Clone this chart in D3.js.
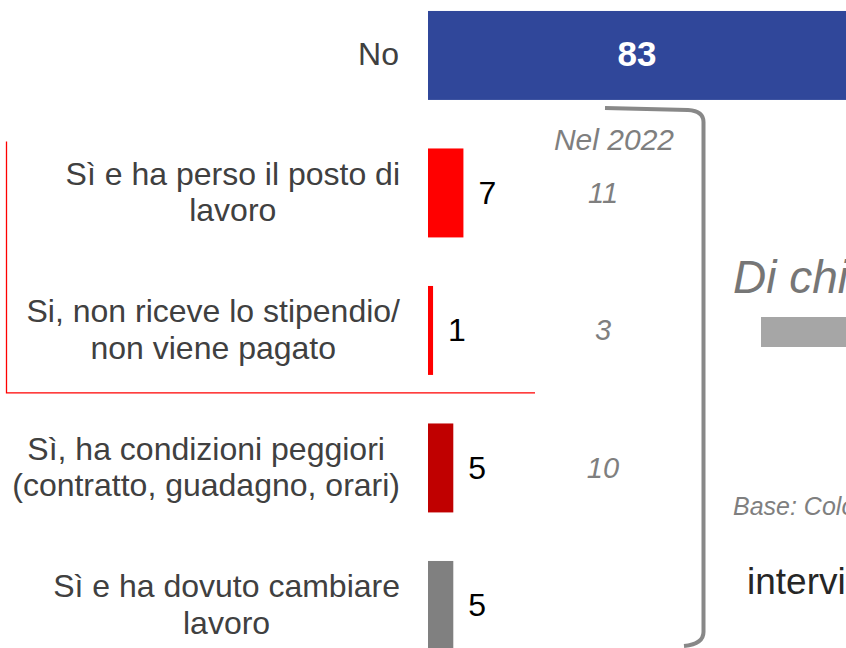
<!DOCTYPE html>
<html>
<head>
<meta charset="utf-8">
<script src="https://cdn.jsdelivr.net/npm/d3@7"></script>
<style>
  html, body { margin: 0; padding: 0; background: #fff; overflow: hidden; }
  svg { display: block; font-family: "Liberation Sans", Arial, sans-serif; }
</style>
</head>
<body>
<div id="chart"></div>
<script>
// Data
const categories = [
  "No",
  "Sì e ha perso il posto di\nlavoro",
  "Si, non riceve lo stipendio/\nnon viene pagato",
  "Sì, ha condizioni peggiori\n(contratto, guadagno, orari)",
  "Sì e ha dovuto cambiare\nlavoro"
];
const values = [83, 7, 1, 5, 5];
const values2022 = [null, 11, 3, 10, null];
const header2022 = "Nel 2022";
const barColors = ["#30479A", "#FF0000", "#FF0000", "#C00000", "#808080"];

// Chart dimensions
const width = 846;
const height = 648;
const barLeft = 428;
const labelRight = 400;

const svg = d3.select("#chart")
  .append("svg")
  .attr("width", width)
  .attr("height", height)
  .attr("viewBox", [0, 0, width, height]);

// scales
const x = d3.scaleLinear()
  .domain([0, 83])
  .range([barLeft, 848]);

const y = d3.scaleBand()
  .domain(categories)
  .range([-13.3, 674.2])
  .paddingInner(0.353)
  .paddingOuter(0.1765);

const color = d3.scaleOrdinal()
  .domain(categories)
  .range(barColors);

const rows = categories.map((c, i) => ({cat: c, value: values[i], prev: values2022[i], i}));

// red bracket line grouping the "lost job" answers
svg.append("path")
  .attr("d", `M6.5,${y(categories[1]) - 7}V${y(categories[2]) + y.bandwidth() + 18}H535`)
  .attr("fill", "none")
  .attr("stroke", "#FF0000")
  .attr("stroke-width", 1.3);

// bars
svg.append("g")
  .selectAll("rect")
  .data(rows)
  .join("rect")
    .attr("x", x(0))
    .attr("y", d => y(d.cat))
    .attr("width", d => x(d.value) - x(0))
    .attr("height", y.bandwidth())
    .attr("fill", d => color(d.cat));

// category labels (multi-line, centred on the longest line, right aligned)
const labels = svg.append("g")
  .attr("fill", "#404040")
  .attr("font-size", 32);

rows.forEach(d => {
  const lines = d.cat.split("\n");
  const g = labels.append("text");
  const cy = y(d.cat) + y.bandwidth() / 2;
  const lh = 36.5;
  lines.forEach((ln, k) => {
    g.append("tspan")
      .attr("y", cy + (k - (lines.length - 1) / 2) * lh + 10)
      .text(ln);
  });
  const tspans = g.selectAll("tspan").nodes();
  const maxW = d3.max(tspans, t => t.getComputedTextLength());
  if (lines.length === 1) {
    g.attr("text-anchor", "end");
    tspans.forEach(t => t.setAttribute("x", labelRight - 1));
  } else {
    g.attr("text-anchor", "middle");
    tspans.forEach(t => t.setAttribute("x", labelRight - maxW / 2));
  }
});

// value labels
svg.append("g")
  .selectAll("text")
  .data(rows)
  .join("text")
    .attr("x", d => d.i === 0 ? (x(0) + Math.min(x(d.value), width)) / 2 : x(d.value) + 15)
    .attr("y", d => y(d.cat) + y.bandwidth() / 2 + 11)
    .attr("text-anchor", d => d.i === 0 ? "middle" : "start")
    .attr("font-size", d => d.i === 0 ? 35 : 32)
    .attr("font-weight", d => d.i === 0 ? "bold" : "normal")
    .attr("fill", d => d.i === 0 ? "#fff" : "#000")
    .text(d => d.value);

// 2022 comparison column
const col2022 = 603;
svg.append("text")
  .attr("x", 614)
  .attr("y", 150)
  .attr("text-anchor", "middle")
  .attr("font-size", 30)
  .attr("font-style", "italic")
  .attr("fill", "#7F7F7F")
  .text(header2022);

svg.append("g")
  .selectAll("text")
  .data(rows.filter(d => d.prev != null))
  .join("text")
    .attr("x", col2022)
    .attr("y", d => y(d.cat) + y.bandwidth() / 2 + 10)
    .attr("text-anchor", "middle")
    .attr("font-size", 29)
    .attr("font-style", "italic")
    .attr("fill", "#7F7F7F")
    .text(d => d.prev);

// grey bracket around the "Sì" answers
const brTop = y(categories[0]) + y.bandwidth() + 8;
const brBottom = y(categories[4]) + y.bandwidth() - 4;
const bx = 703.5;
const p = d3.path();
p.moveTo(605, brTop);
p.lineTo(688, brTop + 2);
p.quadraticCurveTo(bx, brTop + 3, bx, brTop + 14);
p.lineTo(bx, brBottom - 14);
p.quadraticCurveTo(bx, brBottom - 2, 684, brBottom);
svg.append("path")
  .attr("d", p.toString())
  .attr("fill", "none")
  .attr("stroke", "#888888")
  .attr("stroke-width", 4);

// right-hand panel (cut off at the edge)
svg.append("text")
  .attr("x", 733)
  .attr("y", 293)
  .attr("font-size", 46)
  .attr("font-style", "italic")
  .attr("fill", "#767676")
  .text("Di chi lavora");

svg.append("rect")
  .attr("x", 761)
  .attr("y", 317)
  .attr("width", 100)
  .attr("height", 30)
  .attr("fill", "#A6A6A6");

svg.append("text")
  .attr("x", 733)
  .attr("y", 515)
  .attr("font-size", 25)
  .attr("font-style", "italic")
  .attr("fill", "#7F7F7F")
  .text("Base: Coloro che lavorano");

svg.append("text")
  .attr("x", 747)
  .attr("y", 594)
  .attr("font-size", 37)
  .attr("fill", "#262626")
  .text("intervistati");
</script>
</body>
</html>
